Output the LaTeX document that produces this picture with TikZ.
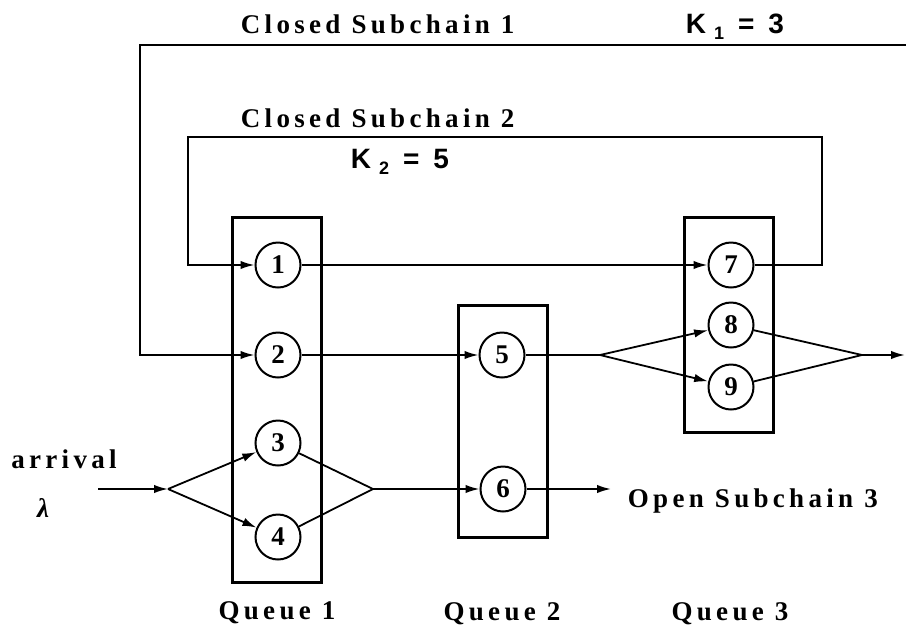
\documentclass[tikz,border=0pt]{standalone}
\usepackage{fontspec}
\setmainfont{Liberation Serif}
\newfontfamily\kfont{Liberation Sans}
\usetikzlibrary{arrows.meta}

\newcommand{\spaced}[1]{{\bfseries\addfontfeature{LetterSpace=16}#1}}
\newcommand{\lowsub}[1]{\raisebox{-0.45ex}{\fontsize{9}{10}\selectfont #1}}

\tikzset{
    station/.style={circle, draw, line width=1pt, minimum size=22.5pt, inner sep=0pt,
        font=\fontsize{13.5}{14}\selectfont\bfseries},
    queuebox/.style={rectangle, draw, line width=1.5pt, inner sep=0pt},
    caption/.style={inner sep=0pt, font=\fontsize{13.5}{16}\selectfont},
    klabel/.style={inner sep=0pt, font=\fontsize{14}{16}\selectfont\kfont\bfseries},
    flow/.style={-{Latex[length=7pt, width=4.2pt]}}
}

\begin{document}
\begin{tikzpicture}[x=0.5pt, y=-0.5pt, line width=0.9pt]
\useasboundingbox (0,0) rectangle (906,628);

% ===== Queue boxes =====
\node[queuebox, minimum width=44.5pt, minimum height=182.5pt] (q1) at (276.5,399.5) {};
\node[queuebox, minimum width=44.5pt, minimum height=116pt]   (q2) at (502.5,421) {};
\node[queuebox, minimum width=44.5pt, minimum height=107.5pt] (q3) at (728.5,324.5) {};

% ===== Stations =====
\node[station, fill=white] (n1) at (278,265) {1};
\node[station, fill=white] (n2) at (278,355) {2};
\node[station, fill=white] (n3) at (278,443) {3};
\node[station, fill=white] (n4) at (278,537) {4};
\node[station, fill=white] (n5) at (502,355) {5};
\node[station, fill=white] (n6) at (503,489) {6};
\node[station, fill=white] (n7) at (731,265) {7};
\node[station, fill=white] (n8) at (731,325) {8};
\node[station, fill=white] (n9) at (731,387) {9};

% ===== Branch and loop points =====
\coordinate (arr) at (98,489);
\coordinate (b34) at (168,489);
\coordinate (j34) at (373,489);
\coordinate (out6) at (611,489);
\coordinate (b89) at (600,355);
\coordinate (j89) at (862,355);
\coordinate (exit) at (905,355);
\coordinate (in2a) at (822,137);
\coordinate (in2b) at (188,137);
\coordinate (out1) at (906,45);
\coordinate (in1b) at (140,45);

% ===== Open subchain =====
\draw[flow] (arr) -- (b34);
\draw[flow] (b34) -- (n3);
\draw[flow] (b34) -- (n4);
\draw (n3) -- (j34) -- (n4);
\draw[flow] (j34) -- (n6);
\draw[flow] (n6) -- (out6);

% ===== Closed subchain 1 =====
\draw[flow] (out1) -- (in1b) |- (n2);
\draw[flow] (n2) -- (n5);
\draw (n5) -- (b89);
\draw[flow] (b89) -- (n8);
\draw[flow] (b89) -- (n9);
\draw (n8) -- (j89) -- (n9);
\draw[flow] (j89) -- (exit);

% ===== Closed subchain 2 =====
\draw[flow] (n1) -- (n7);
\draw[flow] (n7) -| (in2a) -- (in2b) |- (n1);

% ===== Labels =====
\node[caption, anchor=base west] (t1) at (240,33) {\spaced{Closed Subchain 1}};
\node[klabel, anchor=base west] (k1) at (685,33) {K\hspace{4pt}\lowsub{1}\hspace{7pt}=\hspace{7pt}3};
\node[caption, anchor=base west] (t2) at (240,127) {\spaced{Closed Subchain 2}};
\node[klabel, anchor=base west] (k2) at (350,168) {K\hspace{4pt}\lowsub{2}\hspace{7pt}=\hspace{7pt}5};
\node[caption, anchor=base] (arrl) at (64,468) {\spaced{arrival}};
\node[caption, anchor=base] (lam) at (43,517) {\bfseries\itshape λ};
\node[caption, anchor=base west] (t3) at (627,507) {\spaced{Open Subchain 3}};
\node[caption, anchor=base] (ql1) at (277,619) {\spaced{Queue 1}};
\node[caption, anchor=base] (ql2) at (502,620) {\spaced{Queue 2}};
\node[caption, anchor=base] (ql3) at (730,620) {\spaced{Queue 3}};

\end{tikzpicture}
\end{document}
